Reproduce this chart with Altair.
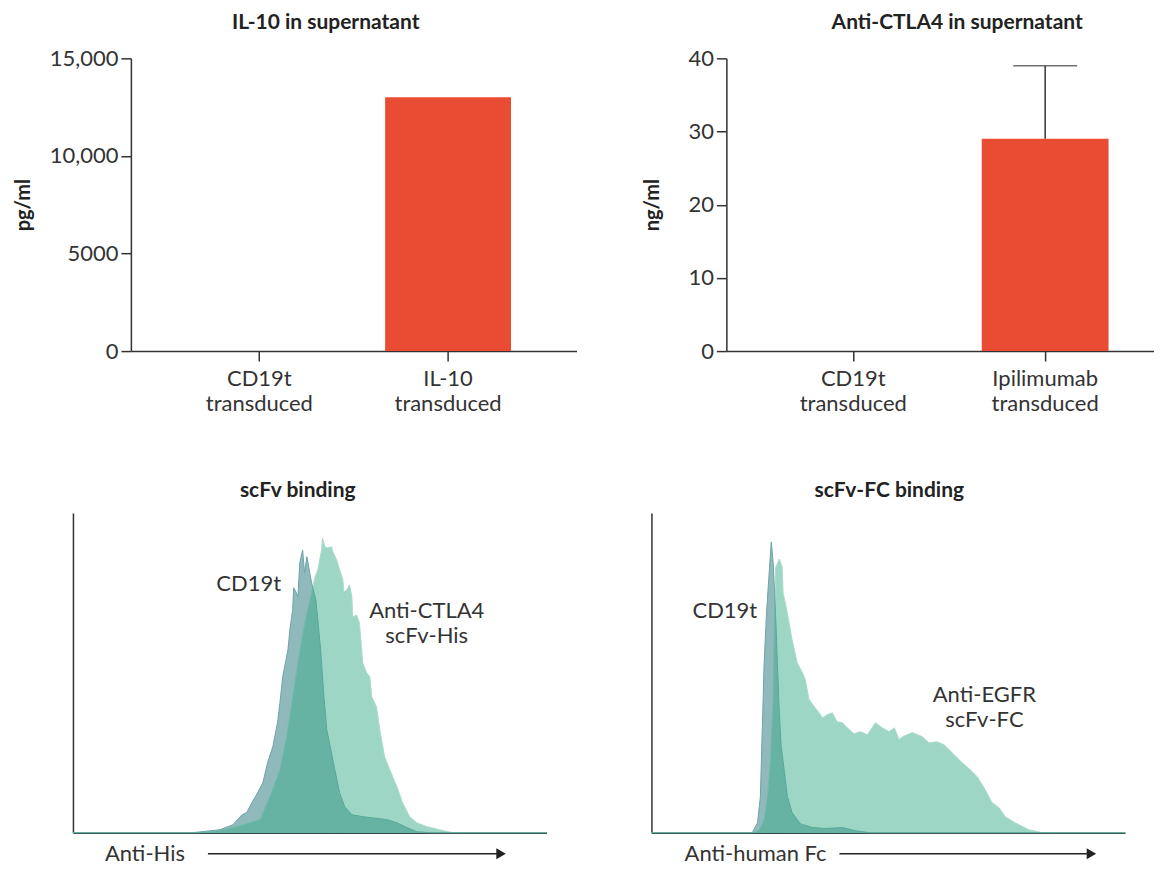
import altair as alt
import pandas as pd

FONT = "Lato"
TXT = "#333333"
RED = "#e94c33"
CD19_FILL = "#8fb9bb"
CD19_STROKE = "#6ea3a8"
GREEN_FILL = "#3fae8f"
GREEN_STROKE = "#5bbb9c"

# ---------------- top-left: IL-10 ----------------
il10_groups = ["CD19t transduced", "IL-10 transduced"]
il10_values = [0, 13000]
il10_ticks = [0, 5000, 10000, 15000]

# ---------------- top-right: anti-CTLA4 ----------------
ctla_groups = ["CD19t transduced", "Ipilimumab transduced"]
ctla_values = [0, 29]
ctla_err_group = ["Ipilimumab transduced"]
ctla_err_low = [29]
ctla_err_high = [39]
ctla_ticks = [0, 10, 20, 30, 40]

# ---------------- bottom-left: scFv binding (Anti-His) ----------------
his_cd19_x = [0, 25.3, 31.0, 33.8, 35.7, 36.7, 37.8, 39.0, 40.1, 41.1, 42.2, 43.2, 43.7, 44.3,
              45.4, 45.8, 46.4, 46.6, 47.0, 47.5, 47.9, 48.5, 48.9, 49.4, 50.0, 50.4, 51.3, 52.3,
              53.0, 53.6, 55.3, 56.3, 57.4, 58.9, 61.2, 66.2, 68.4, 70.5, 72.6, 75.3, 100]
his_cd19_y = [0, 0, 0.9, 2.5, 5.6, 6.3, 9.4, 12.5, 15.6, 21.9, 26.9, 34.4, 40.6, 48.8,
              57.2, 63.4, 69.7, 76.6, 75.6, 73.8, 84.4, 88.4, 81.3, 86.3, 81.3, 78.1, 72.8, 57.2,
              42.5, 32.2, 19.7, 12.5, 8.1, 5.6, 5.0, 4.1, 3.1, 1.6, 0.3, 0, 0]
his_ctla_x = [0, 26.8, 29.5, 33.8, 39.5, 41.6, 43.7, 45.1, 46.4, 47.5, 48.3, 49.4, 50.4, 51.1,
              51.7, 52.5, 52.7, 53.2, 53.8, 54.6, 54.9, 55.7, 56.3, 57.0, 57.2, 57.8, 58.4, 58.9,
              59.1, 59.9, 60.5, 61.2, 62.0, 62.7, 63.1, 64.1, 64.8, 65.8, 66.9, 68.4, 69.6, 71.1,
              72.6, 74.7, 77.4, 80.2, 100]
his_ctla_y = [0, 0, 0.3, 1.6, 4.1, 11.3, 19.7, 30.0, 42.5, 53.1, 60.3, 68.8, 75.0, 80.0,
              82.2, 88.4, 92.2, 89.4, 89.1, 89.4, 87.8, 85.3, 82.2, 79.1, 75.3, 75.9, 77.5, 73.8,
              67.5, 68.1, 65.6, 53.1, 50.0, 48.8, 42.5, 39.4, 32.2, 23.8, 19.7, 14.4, 9.4, 5.0,
              3.1, 1.9, 0.9, 0, 0]
his_label_text = ["CD19t", "Anti-CTLA4", "scFv-His"]
his_label_x = [37.1, 74.7, 74.7]
his_label_y = [77.8, 69.4, 61.6]
his_axis_label = "Anti-His"
his_axis_label_x = [6.75]
his_arrow_x = [28.5, 91.0]
his_arrow_tip_x = [90.4]

# ---------------- bottom-right: scFv-FC binding (Anti-human Fc) ----------------
fc_cd19_x = [0, 21.3, 22.4, 23.0, 23.4, 23.8, 24.3, 24.9, 25.3, 25.7, 26.2, 26.6, 27.0, 27.4,
             28.1, 28.7, 29.7, 31.4, 34.0, 36.7, 40.3, 43.0, 46.0, 100]
fc_cd19_y = [0, 0, 3.1, 11.3, 32.2, 53.1, 68.8, 82.2, 90.9, 84.4, 68.8, 53.1, 37.5, 26.9,
             18.8, 11.3, 6.3, 2.8, 1.6, 1.3, 1.6, 0.6, 0, 0]
fc_egfr_x = [0, 21.7, 22.8, 23.8, 24.5, 25.1, 25.7, 25.9, 26.2, 27.0, 27.6, 27.8, 28.7, 29.7,
             30.8, 31.9, 32.5, 33.3, 34.4, 35.7, 36.1, 37.1, 38.2, 39.2, 40.3, 41.8, 42.8, 44.1,
             45.6, 47.3, 48.7, 50.2, 51.3, 52.3, 53.0, 55.1, 57.2, 58.6, 60.3, 61.8, 63.5, 65.6,
             67.3, 68.8, 70.5, 71.9, 73.4, 74.7, 76.8, 79.7, 82.5, 100]
fc_egfr_y = [0, 0, 0.9, 4.1, 11.3, 21.9, 42.5, 63.4, 82.8, 85.6, 83.1, 75.0, 68.8, 60.3,
             53.1, 50.0, 47.8, 41.6, 39.4, 36.9, 35.9, 36.9, 37.5, 34.7, 34.4, 32.2, 30.9, 31.6,
             30.6, 34.4, 32.8, 31.6, 32.8, 29.1, 30.0, 31.3, 30.0, 28.1, 28.4, 27.5, 25.0, 21.9,
             19.7, 17.5, 13.4, 9.4, 7.8, 5.0, 3.1, 0.9, 0, 0]
fc_label_text = ["CD19t", "Anti-EGFR", "scFv-FC"]
fc_label_x = [15.5, 70.3, 70.3]
fc_label_y = [69.4, 43.1, 35.3]
fc_axis_label = "Anti-human Fc"
fc_axis_label_x = [7.0]
fc_arrow_x = [39.7, 93.5]
fc_arrow_tip_x = [92.9]

AXIS_ROW_Y = -6.6  # data position of the arrow row below the baseline

TOP_W, TOP_H = 446, 293
TR_W = 428
BOT_W, BOT_H = 474, 320
TITLE_SIZE = 21
LABEL_SIZE = 22


def bar_title(text, dx):
    return alt.Title(text, fontSize=TITLE_SIZE, fontWeight="bold", font=FONT, color="#222222",
                     offset=14, dx=dx)


def spacer(w):
    return alt.Chart(pd.DataFrame({"v": [0]})).mark_point(opacity=0).properties(
        width=w, height=10)


x_axis_top = dict(labelExpr="split(datum.label, ' ')", labelAngle=0, tickSize=10,
                  labelPadding=7, labelLineHeight=25)

# ---------- top-left ----------
tl_df = pd.DataFrame({"group": il10_groups, "value": il10_values})
tl = alt.Chart(tl_df).mark_bar(color=RED).encode(
    x=alt.X("group:N", sort=il10_groups, title=None,
            scale=alt.Scale(paddingInner=0.333, paddingOuter=0.347),
            axis=alt.Axis(**x_axis_top)),
    y=alt.Y("value:Q", scale=alt.Scale(domain=[0, 15000], nice=False),
            axis=alt.Axis(values=il10_ticks, tickSize=10, labelPadding=3,
                          labelExpr="datum.value >= 10000 ? format(datum.value, ',') : format(datum.value, 'd')",
                          title="pg/ml", titleX=-97, titleY=TOP_H / 2)),
).properties(width=TOP_W, height=TOP_H, title=bar_title("IL-10 in supernatant", -28))

# ---------- top-right ----------
tr_df = pd.DataFrame({"group": ctla_groups, "value": ctla_values})
err_df = pd.DataFrame({"group": ctla_err_group, "low": ctla_err_low, "high": ctla_err_high})
tr_x = alt.X("group:N", sort=ctla_groups, title=None,
             scale=alt.Scale(paddingInner=0.339, paddingOuter=0.284, align=0.583),
             axis=alt.Axis(**x_axis_top))
tr_bars = alt.Chart(tr_df).mark_bar(color=RED).encode(
    x=tr_x,
    y=alt.Y("value:Q", scale=alt.Scale(domain=[0, 40], nice=False),
            axis=alt.Axis(values=ctla_ticks, tickSize=10, labelPadding=3,
                          title="ng/ml", titleX=-64, titleY=TOP_H / 2)),
)
tr_rule = alt.Chart(err_df).mark_rule(color="#333333", strokeWidth=1.5).encode(
    x=alt.X("group:N", sort=ctla_groups), y="low:Q", y2="high:Q")
tr_cap = alt.Chart(err_df).mark_tick(color="#333333", size=64, thickness=1.5).encode(
    x=alt.X("group:N", sort=ctla_groups), y="high:Q")
tr = alt.layer(tr_bars, tr_rule, tr_cap).properties(
    width=TR_W, height=TOP_H, title=bar_title("Anti-CTLA4 in supernatant", 17))


# ---------- histogram panels ----------
def hist_panel(cx, cy, gx, gy, lab_text, lab_x, lab_y, axis_text, axis_x, arrow_x, tip_x,
               title, dx):
    xs = alt.Scale(domain=[0, 100], nice=False, zero=False)
    ys = alt.Scale(domain=[0, 100], nice=False)
    xa = alt.Axis(labels=False, ticks=False, title=None, grid=False)
    ya = alt.Axis(labels=False, ticks=False, title=None, grid=False, minExtent=0, maxExtent=0)
    cdf = pd.DataFrame({"x": cx, "y": cy})
    gdf = pd.DataFrame({"x": gx, "y": gy})
    a1 = alt.Chart(cdf).mark_area(color=CD19_FILL, stroke=CD19_STROKE, strokeWidth=1).encode(
        x=alt.X("x:Q", scale=xs, axis=xa), y=alt.Y("y:Q", scale=ys, axis=ya))
    a2 = alt.Chart(gdf).mark_area(color=GREEN_FILL, opacity=0.5, stroke=GREEN_STROKE,
                                  strokeOpacity=1, strokeWidth=1).encode(
        x=alt.X("x:Q"), y=alt.Y("y:Q"))
    ldf = pd.DataFrame({"t": lab_text, "x": lab_x, "y": lab_y})
    labels = alt.Chart(ldf).mark_text(font=FONT, fontSize=LABEL_SIZE, color=TXT, align="center",
                                      baseline="middle").encode(x="x:Q", y="y:Q", text="t:N")
    adf = pd.DataFrame({"t": [axis_text], "x": axis_x, "y": [AXIS_ROW_Y]})
    atext = alt.Chart(adf).mark_text(font=FONT, fontSize=LABEL_SIZE, color=TXT, align="left",
                                     baseline="middle").encode(x="x:Q", y="y:Q", text="t:N")
    rdf = pd.DataFrame({"x": [arrow_x[0]], "x2": [arrow_x[1]], "y": [AXIS_ROW_Y]})
    arrow = alt.Chart(rdf).mark_rule(color="#222222", strokeWidth=1.3).encode(
        x="x:Q", x2="x2:Q", y="y:Q")
    hdf = pd.DataFrame({"x": tip_x, "y": [AXIS_ROW_Y]})
    head = alt.Chart(hdf).mark_point(shape="triangle-right", filled=True, size=120,
                                     color="#222222", opacity=1).encode(x="x:Q", y="y:Q")
    return alt.layer(a1, a2, labels, atext, arrow, head).properties(
        width=BOT_W, height=BOT_H,
        title=alt.Title(title, fontSize=TITLE_SIZE, fontWeight="bold", font=FONT,
                        color="#222222", offset=12, dx=dx))


bl = hist_panel(his_cd19_x, his_cd19_y, his_ctla_x, his_ctla_y, his_label_text, his_label_x,
                his_label_y, his_axis_label, his_axis_label_x, his_arrow_x, his_arrow_tip_x,
                "scFv binding", -12)
br = hist_panel(fc_cd19_x, fc_cd19_y, fc_egfr_x, fc_egfr_y, fc_label_text, fc_label_x,
                fc_label_y, fc_axis_label, fc_axis_label_x, fc_arrow_x, fc_arrow_tip_x,
                "scFv-FC binding", 1)

# invisible spacers (cropped away by the negative left padding) offset the two rows
top = alt.hconcat(spacer(1), tl, tr, spacing=66)
bottom = alt.hconcat(spacer(27), bl, br, spacing=101)

chart = alt.concat(top, bottom, columns=1, spacing=66).properties(
    padding={"left": -68, "top": 4, "right": 0, "bottom": 2}
).configure(font=FONT).configure_view(stroke=None).configure_axis(
    domainColor="#333333", domainWidth=1.5, tickColor="#333333", tickWidth=1.5,
    labelColor=TXT, labelFont=FONT, labelFontSize=LABEL_SIZE,
    titleFont=FONT, titleFontWeight="bold", titleFontSize=20, titleColor="#222222", grid=False
)

chart.save("out.html", embed_options={"renderer": "svg", "actions": False})
